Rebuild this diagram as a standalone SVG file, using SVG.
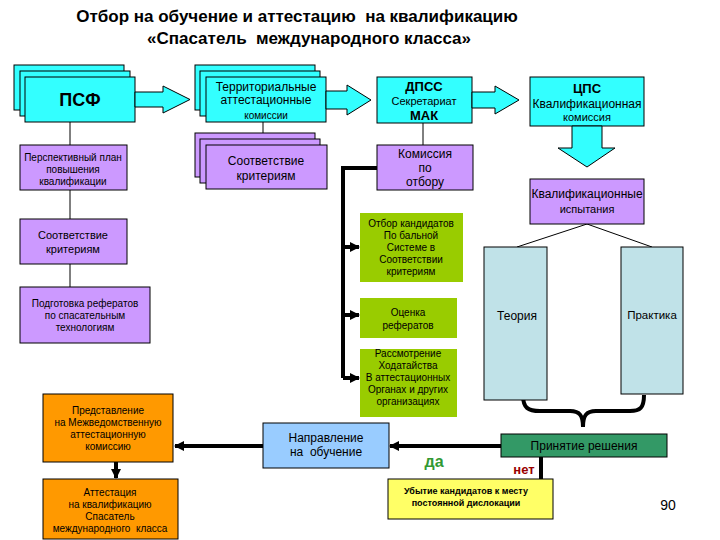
<svg xmlns="http://www.w3.org/2000/svg" width="720" height="540" viewBox="0 0 720 540">
<defs>
<style>
text{font-family:"Liberation Sans",Arial,sans-serif;fill:#000;text-anchor:middle;white-space:pre}
.cy{fill:#33FFFF;stroke:#000;stroke-width:1}
.pu{fill:#CC99FF;stroke:#000;stroke-width:1}
.gr{fill:#99CC00}
.lb{fill:#C0E2E8;stroke:#000;stroke-width:1}
.or{fill:#FF9900;stroke:#000;stroke-width:1}
.thin{stroke:#000;stroke-width:1;fill:none}
.thick{stroke:#000;stroke-width:4;fill:none}
.t{font-size:17px;font-weight:bold}
.s10{font-size:10px}
.s12{font-size:12px}
</style>
<marker id="ah" viewBox="0 0 10 10" refX="9" refY="5" markerWidth="10" markerHeight="10" markerUnits="userSpaceOnUse" orient="auto">
<path d="M0,0 L10,5 L0,10 Z" fill="#000"/>
</marker>
</defs>
<rect width="720" height="540" fill="#fff"/>

<g id="title">
<text class="t" x="297" y="22" xml:space="preserve">Отбор на обучение и аттестацию  на квалификацию</text>
<text class="t" x="309" y="44" xml:space="preserve">«Спасатель  международного класса»</text>
</g>

<g id="connectors">
<line class="thin" x1="70" y1="122" x2="70" y2="145"/>
<line class="thin" x1="70" y1="190" x2="70" y2="219"/>
<line class="thin" x1="70" y1="264" x2="70" y2="287"/>
<line class="thin" x1="263" y1="122" x2="263" y2="145"/>
<line class="thin" x1="423" y1="123" x2="423" y2="145"/>
<line class="thin" x1="587" y1="224" x2="517" y2="247"/>
<line class="thin" x1="587" y1="224" x2="652" y2="247"/>
<path class="thick" d="M377,168 H343 V378"/>
<line class="thick" x1="343" y1="247" x2="359" y2="247" marker-end="url(#ah)"/>
<line class="thick" x1="343" y1="315" x2="359" y2="315" marker-end="url(#ah)"/>
<line class="thick" x1="343" y1="378" x2="359" y2="378" marker-end="url(#ah)"/>
<path class="thick" d="M523,395 C523,408 528,411 540,411 H570 C580,411 583,416 583,427 C583,416 586,411 596,411 H630 C640,411 644,408 644,395"/>
<line class="thick" x1="501" y1="446" x2="390" y2="446" marker-end="url(#ah)"/>
<line class="thick" x1="263" y1="446" x2="175" y2="446" marker-end="url(#ah)"/>
<line class="thick" x1="116" y1="462" x2="116" y2="478" marker-end="url(#ah)"/>
<line class="thick" x1="541" y1="457" x2="541" y2="480"/>
</g>

<g id="psf">
<rect class="cy" x="14" y="65" width="110" height="45"/>
<rect class="cy" x="20" y="71" width="110" height="45"/>
<rect class="cy" x="25" y="77" width="110" height="45"/>
<polygon class="cy" points="135,92 163,92 163,86 190,99.5 163,113 163,107 135,107"/>
<text x="80" y="106" style="font-size:18px;font-weight:bold">ПСФ</text>
</g>

<g id="plan">
<rect class="pu" x="20" y="145" width="107" height="45"/>
<text class="s10" x="73" y="161">Перспективный план</text>
<text class="s10" x="73" y="173">повышения</text>
<text class="s10" x="73" y="185">квалификации</text>
</g>

<g id="sootv-left">
<rect class="pu" x="20" y="219" width="107" height="45"/>
<text x="73" y="239" style="font-size:11px">Соответствие</text>
<text x="73" y="253" style="font-size:11px">критериям</text>
</g>

<g id="referaty">
<rect class="pu" x="20" y="287" width="130" height="56"/>
<text class="s10" x="85" y="307">Подготовка рефератов</text>
<text class="s10" x="85" y="319">по спасательным</text>
<text class="s10" x="85" y="331">технологиям</text>
</g>

<g id="territorial">
<rect class="cy" x="195" y="65" width="120" height="45"/>
<rect class="cy" x="200" y="71" width="120" height="45"/>
<rect class="cy" x="206" y="77" width="120" height="45"/>
<polygon class="cy" points="326,91 347,91 347,85 371,100 347,115 347,109 326,109"/>
<text class="s12" x="266" y="91">Территориальные</text>
<text class="s12" x="266" y="104">аттестационные</text>
<text x="266" y="119" style="font-size:10px">комиссии</text>
</g>

<g id="sootv-mid">
<rect class="pu" x="195" y="133" width="120" height="44"/>
<rect class="pu" x="200" y="139" width="120" height="44"/>
<rect class="pu" x="206" y="145" width="121" height="44"/>
<text class="s12" x="266" y="165">Соответствие</text>
<text class="s12" x="266" y="180">критериям</text>
</g>

<g id="dpss">
<rect class="cy" x="377" y="77" width="95" height="46"/>
<polygon class="cy" points="472,92 495,92 495,86 519,100 495,114 495,108 472,108"/>
<text x="424" y="91" style="font-size:13px;font-weight:bold">ДПСС</text>
<text x="424" y="105" style="font-size:11px">Секретариат</text>
<text x="424" y="120" style="font-size:13px;font-weight:bold">МАК</text>
</g>

<g id="komissiya">
<rect class="pu" x="377" y="145" width="96" height="45"/>
<text class="s12" x="425" y="158">Комиссия</text>
<text class="s12" x="425" y="172">по</text>
<text class="s12" x="425" y="186">отбору</text>
</g>

<g id="cps">
<rect class="cy" x="530" y="77" width="114" height="49"/>
<polygon class="cy" points="572,126 602,126 602,148 615,148 587,167 558,148 572,148"/>
<text x="587" y="93" style="font-size:13px;font-weight:bold">ЦПС</text>
<text class="s12" x="587" y="108">Квалификационная</text>
<text x="587" y="121" style="font-size:11px">комиссия</text>
</g>

<g id="ispytaniya">
<rect class="pu" x="530" y="179" width="114" height="45"/>
<text class="s12" x="587" y="198">Квалификационные</text>
<text x="587" y="213" style="font-size:11px">испытания</text>
</g>

<g id="green1">
<rect class="gr" x="360" y="213" width="103" height="69"/>
<text class="s10" x="411" y="227">Отбор кандидатов</text>
<text class="s10" x="411" y="239">По бальной</text>
<text class="s10" x="411" y="251">Системе в</text>
<text class="s10" x="411" y="263">Соответствии</text>
<text class="s10" x="411" y="275">критериям</text>
</g>

<g id="green2">
<rect class="gr" x="360" y="298" width="97" height="40"/>
<text class="s10" x="408" y="316">Оценка</text>
<text class="s10" x="408" y="329">рефератов</text>
</g>

<g id="green3">
<rect class="gr" x="360" y="349" width="97" height="68"/>
<text class="s10" x="408" y="357">Рассмотрение</text>
<text class="s10" x="408" y="369">Ходатайства</text>
<text class="s10" x="408" y="381">В аттестационных</text>
<text class="s10" x="408" y="393">Органах и других</text>
<text class="s10" x="408" y="405">организациях</text>
</g>

<g id="teoriya">
<rect class="lb" x="484" y="247" width="63" height="153"/>
<text x="517" y="320" style="font-size:12px">Теория</text>
</g>

<g id="praktika">
<rect class="lb" x="621" y="247" width="62" height="147"/>
<text x="652" y="319" style="font-size:11.5px">Практика</text>
</g>

<g id="prinyatie">
<rect x="501" y="434" width="166" height="23" fill="#339966" stroke="#000" stroke-width="1"/>
<text class="s12" x="584" y="450">Принятие решения</text>
</g>

<g id="napravlenie">
<rect x="263" y="423" width="126" height="45" fill="#99CCFF" stroke="#000" stroke-width="1"/>
<text class="s12" x="326" y="442">Направление</text>
<text class="s12" x="326" y="456" xml:space="preserve">на  обучение</text>
</g>

<g id="predstavlenie">
<rect class="or" x="43" y="394" width="130" height="68"/>
<text class="s10" x="108" y="414">Представление</text>
<text class="s10" x="108" y="426">на Межведомственную</text>
<text class="s10" x="108" y="438">аттестационную</text>
<text class="s10" x="108" y="450">комиссию</text>
</g>

<g id="attestaciya">
<rect class="or" x="43" y="479" width="135" height="60"/>
<text class="s10" x="110" y="496">Аттестация</text>
<text class="s10" x="110" y="508">на квалификацию</text>
<text class="s10" x="110" y="520">Спасатель</text>
<text class="s10" x="110" y="532" xml:space="preserve">международного  класса</text>
</g>

<g id="ubytie">
<rect x="388" y="479" width="165" height="40" fill="#FFFF66" stroke="#000" stroke-width="1"/>
<text x="466" y="494" style="font-size:9px;font-weight:bold">Убытие кандидатов к месту</text>
<text x="466" y="506" style="font-size:9px;font-weight:bold">постоянной дислокации</text>
</g>

<g id="labels">
<text x="434" y="467" style="font-size:16px;font-weight:bold;fill:#339933">да</text>
<text x="524" y="474" style="font-size:13px;font-weight:bold;fill:#990000">нет</text>
<text x="668" y="510" style="font-size:14px">90</text>
</g>
</svg>
